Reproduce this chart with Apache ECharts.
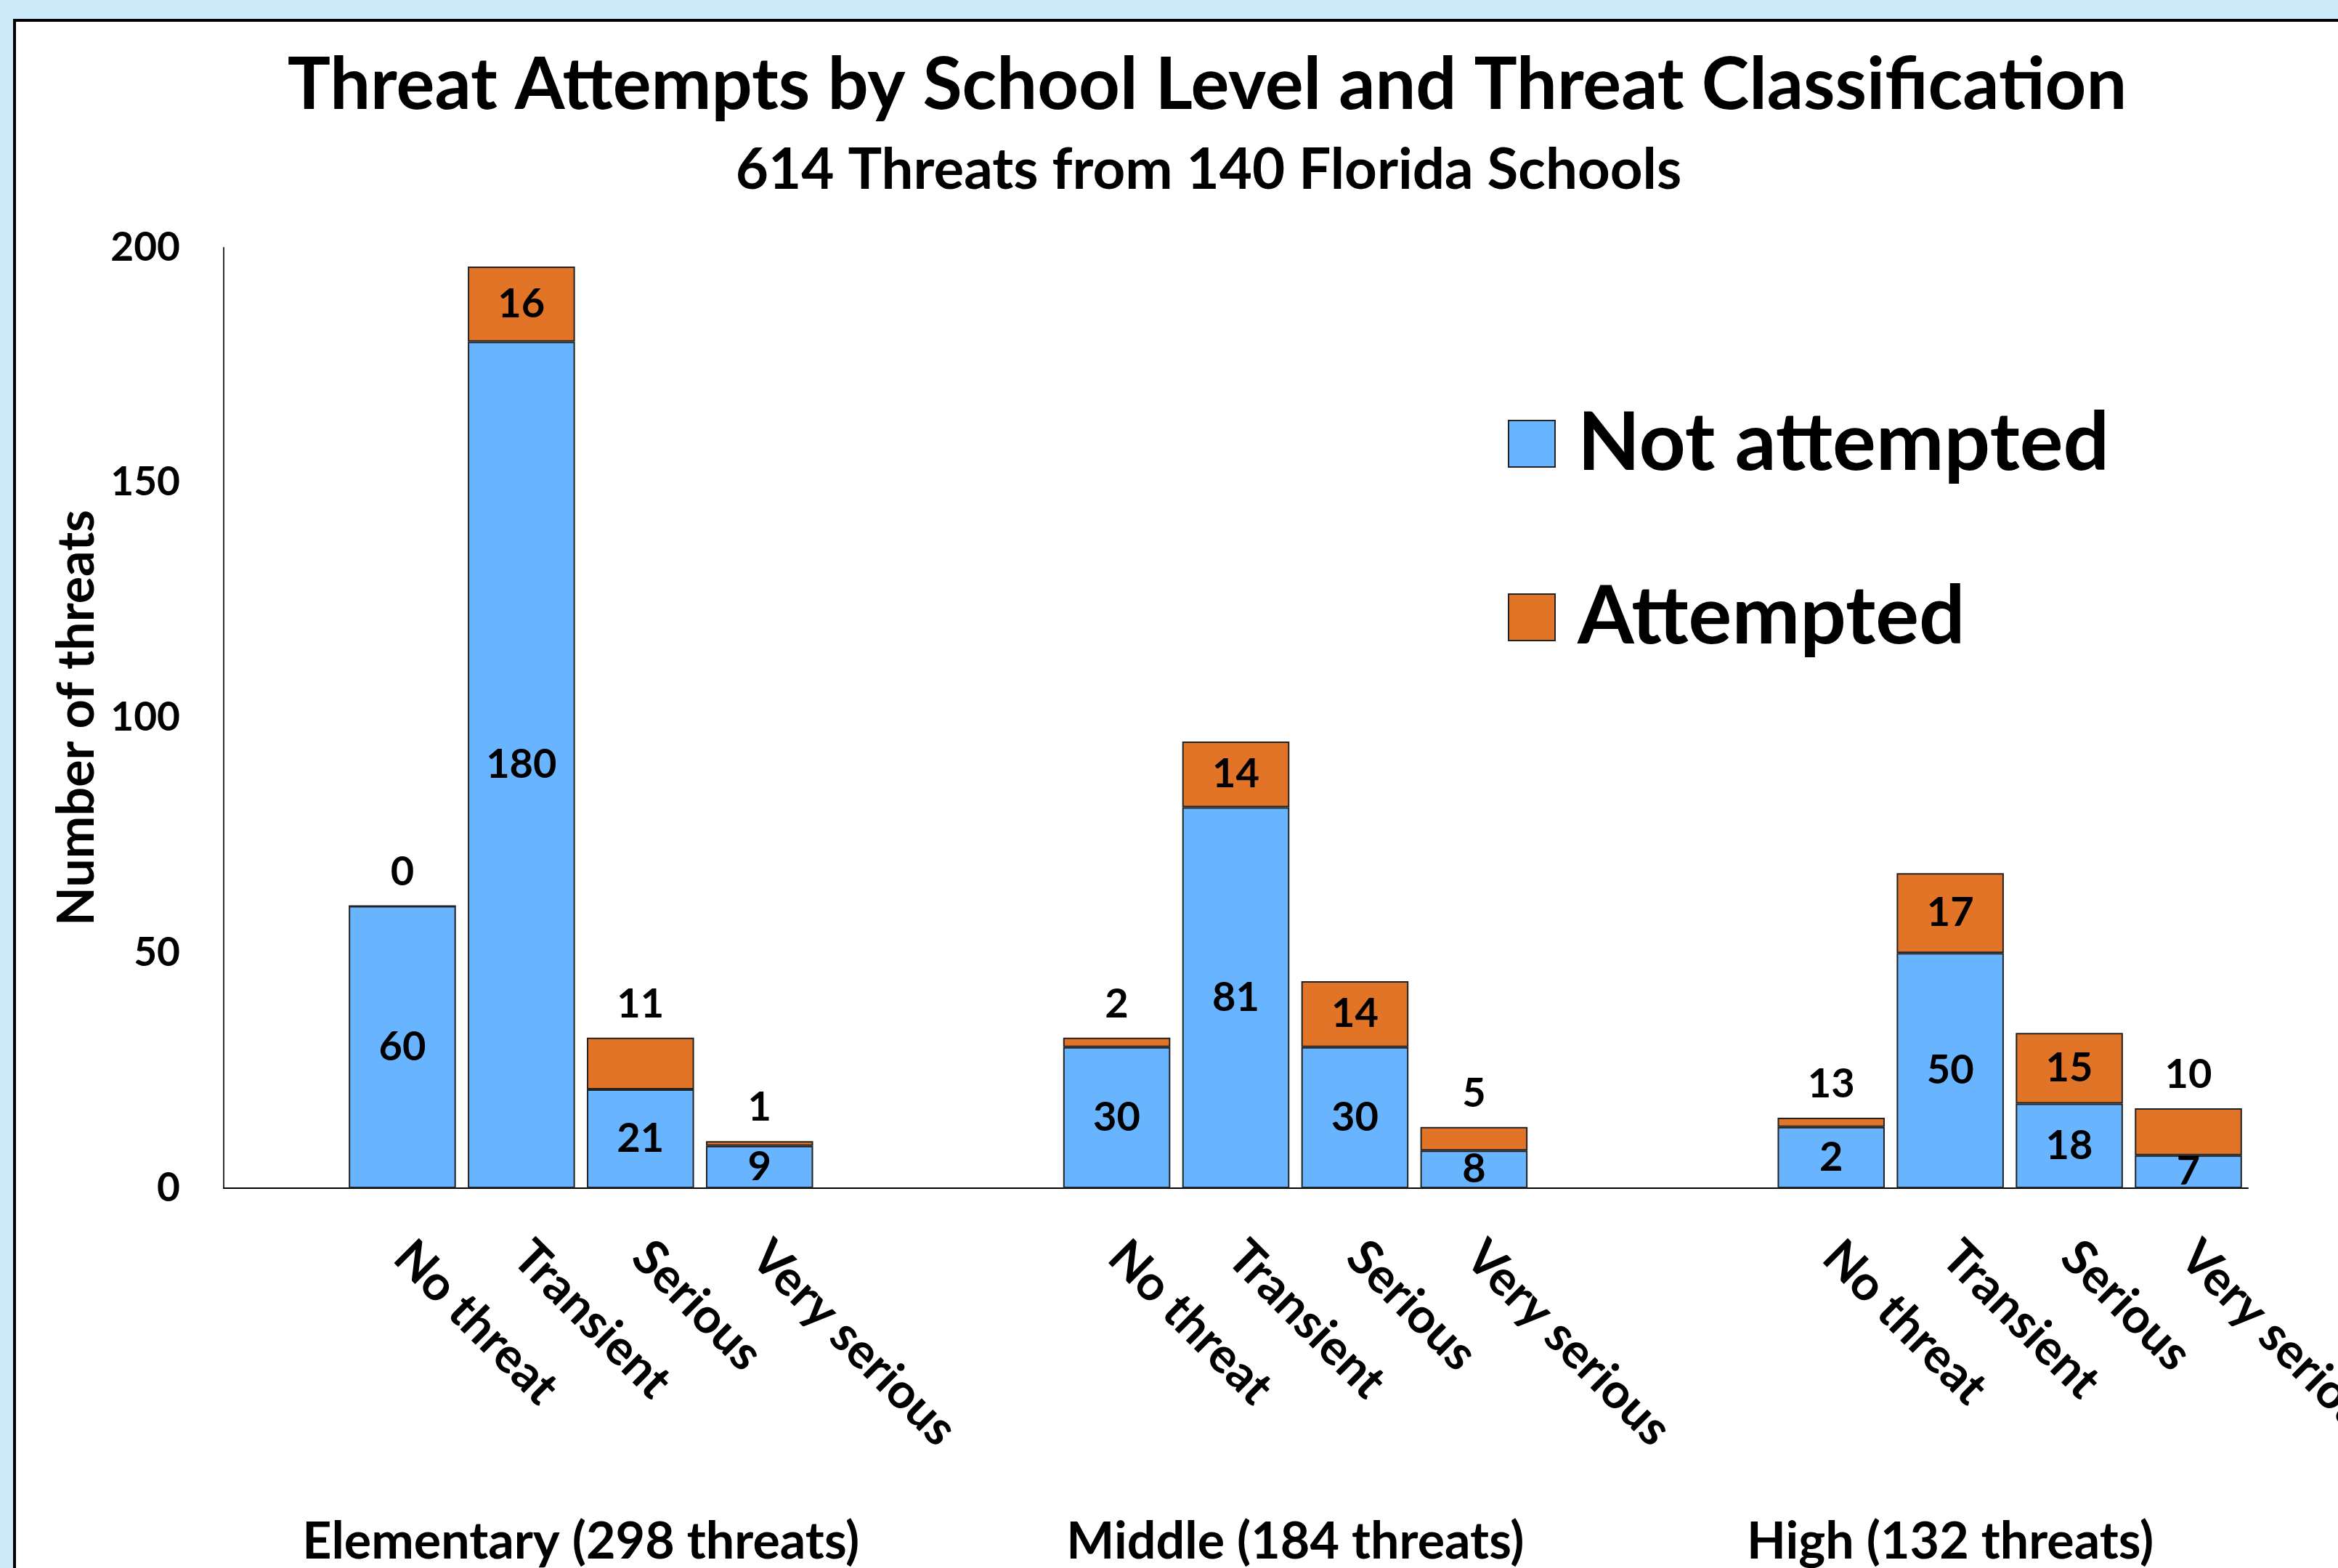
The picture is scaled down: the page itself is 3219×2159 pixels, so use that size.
<!DOCTYPE html>
<html>
<head>
<meta charset="utf-8">
<title>Threat Attempts by School Level and Threat Classification</title>
<script src="https://cdn.jsdelivr.net/npm/echarts@6/dist/echarts.min.js"></script>
<style>
  html, body { margin: 0; padding: 0; background: #cceafa; }
  #chart { width: 3219px; height: 2159px; }
</style>
</head>
<body>
<div id="chart"></div>
<script>
const classes = ['No threat', 'Transient', 'Serious', 'Very serious']
// one empty slot before the first group, two between groups
const categories = ['', ...classes, '', '', ...classes, '', '', ...classes]
const groupNames = ['Elementary (298 threats)', 'Middle (184 threats)', 'High (132 threats)']
const groupLabelPos = [3, 9, 14.5]

const notAttempted = ['-', 60, 180, 21, 9, '-', '-', 30, 81, 30, 8, '-', '-', 13, 50, 18, 7]
const attempted = ['-', 0, 16, 11, 1, '-', '-', 2, 14, 14, 5, '-', '-', 2, 17, 15, 10]
// labels as printed on the original (the high school "No threat" pair is printed swapped)
const notAttemptedLabels = ['', '60', '180', '21', '9', '', '', '30', '81', '30', '8', '', '', '2', '50', '18', '7']
const attemptedLabels = ['', '0', '16', '11', '1', '', '', '2', '14', '14', '5', '', '', '13', '17', '15', '10']
const yTicks = [0, 50, 100, 150, 200]

const font = 'Lato, "Open Sans", sans-serif'
const blue = '#69b4ff'
const orange = '#e27428'

const chart = echarts.init(document.getElementById('chart'))

const attemptedData = attempted.map(function(v) {
  if (v === '-') return v
  // short segments get their number above the bar
  const inside = v > 12
  return { value: v, label: { position: inside ? 'inside' : 'top', distance: 18 } }
})

const labelStyle = {
  show: true,
  fontFamily: font,
  fontSize: 56,
  fontWeight: 'bold',
  color: '#000',
  textBorderWidth: 0
}

const option = {
  backgroundColor: '#cceafa',
  animation: false,
  graphic: [{
    type: 'rect',
    z: -10,
    shape: { x: 20, y: 28, width: 3400, height: 2400 },
    style: { fill: '#fff', stroke: '#000', lineWidth: 4 }
  }],
  title: [{
    text: 'Threat Attempts by School Level and Threat Classification',
    left: 1657,
    top: 64,
    textAlign: 'center',
    textStyle: { fontFamily: font, fontSize: 99, fontWeight: 'bold', color: '#000' }
  }, {
    text: '614 Threats from 140 Florida Schools',
    left: 1659,
    top: 191,
    textAlign: 'center',
    textStyle: { fontFamily: font, fontSize: 78, fontWeight: 'bold', color: '#000' }
  }],
  legend: {
    orient: 'vertical',
    left: 2076,
    top: 555,
    padding: 0,
    itemWidth: 64,
    itemHeight: 64,
    itemGap: 127,
    icon: 'rect',
    data: ['Not attempted', 'Attempted'],
    textStyle: {
      fontFamily: font,
      fontSize: 112,
      fontWeight: 'bold',
      color: '#000',
      lineHeight: 64,
      padding: [0, 0, 0, 26]
    }
  },
  grid: {
    left: 308,
    right: 124,
    top: 341,
    bottom: 523,
    containLabel: false,
    outerBoundsMode: 'none'
  },
  xAxis: [{
    type: 'category',
    data: categories,
    axisLine: { lineStyle: { color: '#000', width: 2 } },
    axisTick: { show: false },
    axisLabel: {
      interval: 0,
      rotate: -45,
      margin: 84,
      fontFamily: font,
      fontSize: 67,
      fontWeight: 'bold',
      color: '#000'
    }
  }, {
    type: 'value',
    position: 'bottom',
    min: 0,
    max: categories.length,
    axisLine: { show: false },
    axisTick: { show: false },
    splitLine: { show: false },
    axisLabel: {
      customValues: groupLabelPos,
      formatter: function(v) {
        const i = groupLabelPos.indexOf(v)
        return i < 0 ? '' : groupNames[i]
      },
      margin: 452,
      fontFamily: font,
      fontSize: 70,
      fontWeight: 'bold',
      color: '#000'
    }
  }],
  yAxis: {
    type: 'value',
    min: yTicks[0],
    max: yTicks[yTicks.length - 1],
    interval: yTicks[1] - yTicks[0],
    name: 'Number of threats',
    nameLocation: 'middle',
    nameGap: 162,
    nameTextStyle: { fontFamily: font, fontSize: 70, fontWeight: 'bold', color: '#000' },
    axisLine: { show: true, lineStyle: { color: '#333', width: 2 } },
    axisTick: { show: false },
    splitLine: { show: false },
    axisLabel: {
      margin: 60,
      fontFamily: font,
      fontSize: 55,
      fontWeight: 'bold',
      color: '#000'
    }
  },
  series: [{
    name: 'Not attempted',
    type: 'bar',
    stack: 'total',
    barCategoryGap: '10%',
    data: notAttempted,
    itemStyle: { color: blue, borderColor: '#222', borderWidth: 2 },
    label: Object.assign({}, labelStyle, {
      position: 'inside',
      formatter: function(p) { return notAttemptedLabels[p.dataIndex] }
    })
  }, {
    name: 'Attempted',
    type: 'bar',
    stack: 'total',
    barCategoryGap: '10%',
    data: attemptedData,
    itemStyle: { color: orange, borderColor: '#222', borderWidth: 2 },
    label: Object.assign({}, labelStyle, {
      formatter: function(p) { return attemptedLabels[p.dataIndex] }
    })
  }]
}

chart.setOption(option)
</script>
</body>
</html>
